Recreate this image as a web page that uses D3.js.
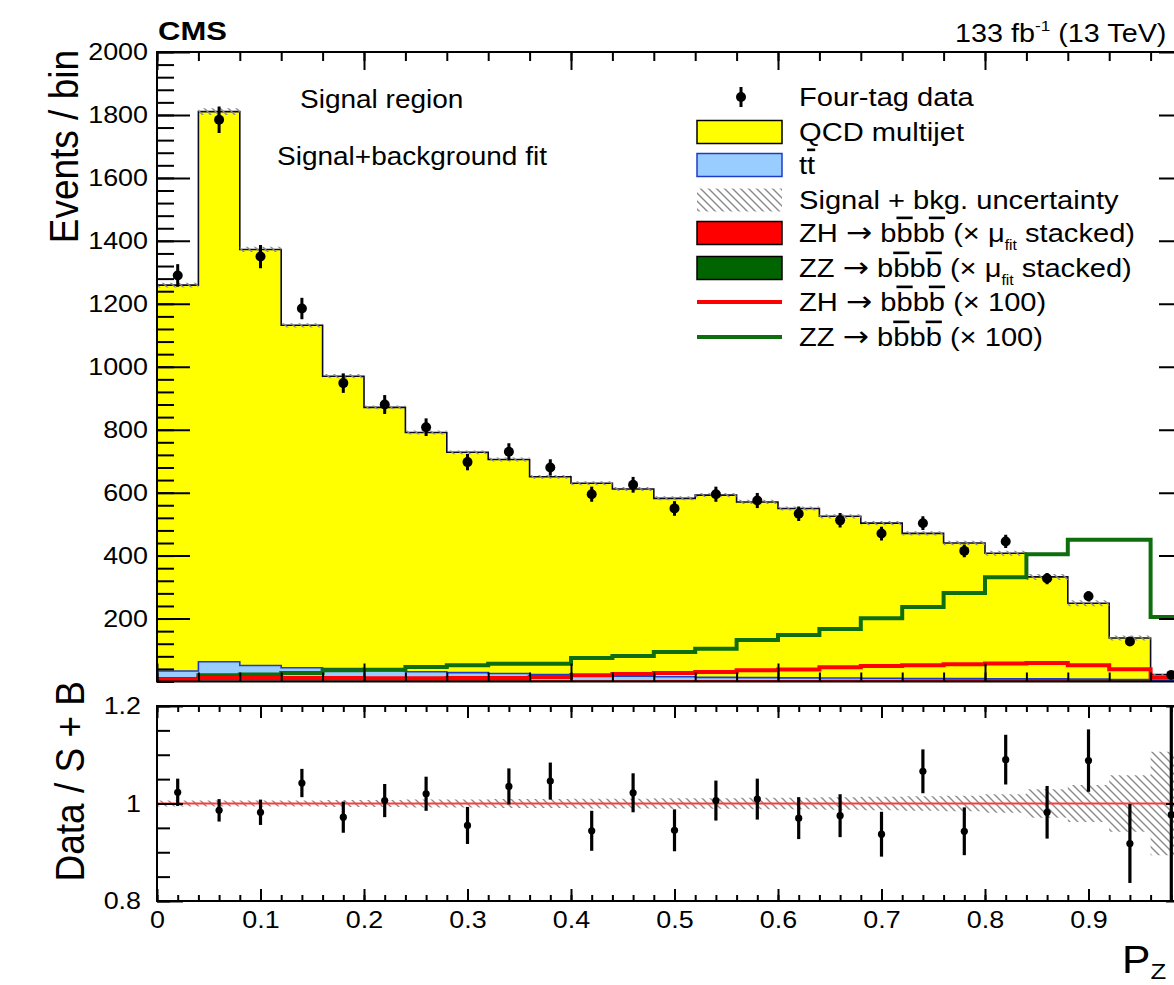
<!DOCTYPE html>
<html><head><meta charset="utf-8">
<script src="https://cdn.jsdelivr.net/npm/d3@7"></script>
<style>
body{margin:0;background:#fff}
svg{display:block}
text{font-family:"Liberation Sans",Arial,Helvetica,sans-serif;fill:#000}
</style></head>
<body><svg id="c" width="1174" height="985"></svg>
<script>
// ---------------- data ----------------
const binEdges = [0,0.04,0.08,0.12,0.16,0.2,0.24,0.28,0.32,0.36,0.4,0.44,0.48,0.52,0.56,0.6,0.64,0.68,0.72,0.76,0.8,0.84,0.88,0.92,0.96,1.0];
const dataCounts = [1290,1785,1350,1185,948,880,808,697,730,680,595,625,550,595,575,533,512,470,503,415,445,327,271,127,21];
const dataErr = [36,42,37,34,31,30,28,26,27,26,24,25,23,24,24,23,23,22,22,20,21,18,16,11,5];
const qcd = [1226,1748,1322,1088,929,837,760,700,680,628,610,595,567,579,558,538,514,493,461,431,399,324,241,132,19];
const ttbar = [33,62,50,43,40,33,30,27,24,21,18,15,13,11,10,9,8,7,6,5,4,3,2,1,0.5];
const zhStacked = [0.3,0.4,0.5,0.5,0.6,0.6,0.7,0.7,0.8,0.8,0.9,0.9,1.0,1.0,1.1,1.1,1.2,1.2,1.3,1.3,1.3,1.3,1.2,0.9,0.3];
const zzStacked = [0.1,0.2,0.2,0.3,0.4,0.4,0.5,0.5,0.6,0.6,0.8,0.8,0.9,1.0,1.3,1.5,1.7,2.0,2.4,2.8,3.3,4.0,4.5,4.5,2.0];
const zh100 = [5,11,11,11,11,10,10,11,11,14,20,24,27,30,36,38,45,49,52,55,57,59,52,39,12];
const zz100 = [8,20,22,27,36,37,46,52,56,56,75,81,94,104,132,148,167,201,237,281,331,404,450,450,205];
const ratio = [1.023,0.986,0.982,1.042,0.972,1.006,1.02,0.955,1.035,1.046,0.944,1.022,0.945,1.006,1.009,0.97,0.975,0.937,1.066,0.943,1.09,0.982,1.088,0.918,0.977];
const ratioErr = [0.028,0.023,0.026,0.029,0.032,0.034,0.035,0.038,0.037,0.038,0.041,0.04,0.043,0.041,0.042,0.043,0.044,0.046,0.045,0.049,0.051,0.054,0.064,0.081,0.24];
const uncRel = [0.006,0.006,0.006,0.006,0.007,0.007,0.008,0.008,0.009,0.009,0.010,0.010,0.011,0.011,0.012,0.012,0.013,0.014,0.015,0.016,0.019,0.029,0.038,0.058,0.106];
const yTopTicks = [200,400,600,800,1000,1200,1400,1600,1800,2000];
const yRatioTicks = [0.8,1.0,1.2];
const xLabelTicks = [0,0.1,0.2,0.3,0.4,0.5,0.6,0.7,0.8,0.9];
const xMajorRatio = [0,0.1,0.2,0.3,0.4,0.5,0.6,0.7,0.8,0.9,1.0];

// ---------------- layout ----------------
const SX = 1.12;
const L = 157, R = 1192;
const topP = {t:52, b:681.5};
const botP = {t:706, b:901};
const svg = d3.select("#c");
const defs = svg.append("defs");
const x = d3.scaleLinear().domain([0,1]).range([L,R]);
const y = d3.scaleLinear().domain([0,2000]).range([topP.b, topP.t]);
const yr = d3.scaleLinear().domain([0.8,1.2]).range([botP.b, botP.t]);

const pat = defs.append("pattern").attr("id","hatch").attr("patternUnits","userSpaceOnUse").attr("width",8).attr("height",8);
pat.append("path").attr("d","M0,0 L8,8 M-2,6 L2,10 M6,-2 L10,2").attr("stroke","#8a8a8a").attr("stroke-width",1.4);
defs.append("clipPath").attr("id","clipTop").append("rect").attr("x",L).attr("y",topP.t).attr("width",R-L).attr("height",topP.b-topP.t);
defs.append("clipPath").attr("id","clipBot").append("rect").attr("x",L).attr("y",botP.t).attr("width",R-L).attr("height",botP.b-botP.t);

function stretchText(sel, sx){
  sel.selectAll("text").each(function(){
    const tx = +this.getAttribute("x")||0, ty = +this.getAttribute("y")||0;
    this.setAttribute("x",0); this.setAttribute("y",0);
    this.setAttribute("transform",`translate(${tx},${ty}) scale(${sx},1)`);
  });
}
function label(g, x0, y0, size, opts={}){
  return g.append("text")
    .attr("transform",`translate(${x0},${y0}) scale(${opts.sx||SX},1)` + (opts.rot?` rotate(${opts.rot})`:""))
    .attr("text-anchor",opts.anchor||"start")
    .attr("font-size",size)
    .attr("font-weight",opts.weight||"normal");
}
function steps(lo, hi){
  const pts=[];
  for(let i=0;i<lo.length;i++){
    pts.push({x:binEdges[i], y0:lo[i], y1:hi[i]});
    pts.push({x:binEdges[i+1], y0:lo[i], y1:hi[i]});
  }
  return pts;
}

// ---------------- top panel ----------------
const gTop = svg.append("g").attr("clip-path","url(#clipTop)");
const rows = binEdges.slice(0,-1).map((e,i)=>({zz:zzStacked[i], zh:zhStacked[i], tt:ttbar[i], qcd:qcd[i]}));
const stack = d3.stack().keys(["zz","zh","tt","qcd"])(rows);
const fills = {zz:"#006400", zh:"#ff0000", tt:"#99ccff", qcd:"#ffff00"};
const lines = {zz:"#006400", zh:"#ff0000", tt:"#1e3ccc", qcd:"#0a0a28"};
const area = d3.area().x(d=>x(d.x)).y0(d=>y(d.y0)).y1(d=>y(d.y1));
const topLine = d3.line().x(d=>x(d.x)).y(d=>y(d.y1));
[...stack].reverse().forEach(s=>{
  const lo = s.map(d=>d[0]), hi = s.map(d=>d[1]);
  gTop.append("path").attr("d",area(steps(lo,hi))).attr("fill",fills[s.key]);
});
stack.forEach(s=>{
  const hi = s.map(d=>d[1]);
  const pts = [{x:0,y1:0}, ...steps(hi,hi), {x:1,y1:0}];
  gTop.append("path").attr("d",topLine(pts)).attr("fill","none").attr("stroke",lines[s.key]).attr("stroke-width",1.6);
});
const total = stack[stack.length-1].map(d=>d[1]);
gTop.append("path").attr("d",area(steps(total.map((t,i)=>t*(1-uncRel[i])), total.map((t,i)=>t*(1+uncRel[i])))))
  .attr("fill","url(#hatch)");
const sigLine = d3.line().x(d=>x(d.x)).y(d=>y(d.y1));
gTop.append("path").attr("d",sigLine(steps(zz100,zz100))).attr("fill","none").attr("stroke","#0e6e0e").attr("stroke-width",4);
gTop.append("path").attr("d",sigLine(steps(zh100,zh100))).attr("fill","none").attr("stroke","#ff0000").attr("stroke-width",4);
const centers = binEdges.slice(0,-1).map((e,i)=>(e+binEdges[i+1])/2);
const gData = gTop.append("g");
centers.forEach((c,i)=>{
  gData.append("line").attr("x1",x(c)).attr("x2",x(c)).attr("y1",y(dataCounts[i]-dataErr[i])).attr("y2",y(dataCounts[i]+dataErr[i])).attr("stroke","#000").attr("stroke-width",3);
  gData.append("circle").attr("cx",x(c)).attr("cy",y(dataCounts[i])).attr("r",5).attr("fill","#000");
});

function styleAxis(g){ g.select(".domain").remove(); g.selectAll("line").attr("stroke","#000").attr("stroke-width",2); g.attr("font-family",null).attr("font-size",24); }
const minorTopY = d3.range(0,2001,40);
svg.append("g").attr("transform",`translate(${L},0)`).call(d3.axisLeft(y).tickValues(minorTopY).tickSize(-17).tickFormat("")).call(styleAxis);
svg.append("g").attr("transform",`translate(${L},0)`).call(d3.axisLeft(y).tickValues(yTopTicks).tickSize(-33).tickPadding(9).tickFormat(d3.format("d"))).call(styleAxis).call(g=>stretchText(g,SX));
svg.append("g").attr("transform",`translate(${R},0)`).call(d3.axisRight(y).tickValues(minorTopY).tickSize(-17).tickFormat("")).call(styleAxis);
svg.append("g").attr("transform",`translate(${R},0)`).call(d3.axisRight(y).tickValues(yTopTicks).tickSize(-33).tickFormat("")).call(styleAxis);
const minorTopX = d3.range(0,1.0001,0.04);
const majorTopX = [0,0.2,0.4,0.6,0.8,1.0];
[[topP.b, d3.axisBottom],[topP.t, d3.axisTop]].forEach(([yy,ax])=>{
  svg.append("g").attr("transform",`translate(0,${yy})`).call(ax(x).tickValues(minorTopX).tickSize(-9).tickFormat("")).call(styleAxis);
  svg.append("g").attr("transform",`translate(0,${yy})`).call(ax(x).tickValues(majorTopX).tickSize(-18).tickFormat("")).call(styleAxis);
});
svg.append("rect").attr("x",L).attr("y",topP.t).attr("width",R-L).attr("height",topP.b-topP.t).attr("fill","none").attr("stroke","#000").attr("stroke-width",2);

// ---------------- ratio panel ----------------
const gBot = svg.append("g").attr("clip-path","url(#clipBot)");
const areaR = d3.area().x(d=>x(d.x)).y0(d=>yr(d.y0)).y1(d=>yr(d.y1));
gBot.append("path").attr("d",areaR(steps(uncRel.map(u=>1-u), uncRel.map(u=>1+u)))).attr("fill","url(#hatch)");
gBot.append("line").attr("x1",x(0)).attr("x2",x(1)).attr("y1",yr(1)).attr("y2",yr(1)).attr("stroke","#ff3a3a").attr("stroke-width",1.8);
centers.forEach((c,i)=>{
  gBot.append("line").attr("x1",x(c)).attr("x2",x(c)).attr("y1",yr(ratio[i]-ratioErr[i])).attr("y2",yr(ratio[i]+ratioErr[i])).attr("stroke","#000").attr("stroke-width",3.2);
  gBot.append("circle").attr("cx",x(c)).attr("cy",yr(ratio[i])).attr("r",3.6).attr("fill","#000");
});
const minorRY = d3.range(0.8,1.2001,0.05);
svg.append("g").attr("transform",`translate(${L},0)`).call(d3.axisLeft(yr).tickValues(minorRY).tickSize(-13).tickFormat("")).call(styleAxis);
svg.append("g").attr("transform",`translate(${L},0)`).call(d3.axisLeft(yr).tickValues(yRatioTicks).tickSize(-26).tickPadding(16).tickFormat(d=>Math.abs(d-1)<1e-9?"1":d3.format(".1f")(d))).call(styleAxis).call(g=>stretchText(g,SX));
svg.append("g").attr("transform",`translate(${R},0)`).call(d3.axisRight(yr).tickValues(minorRY).tickSize(-13).tickFormat("")).call(styleAxis);
svg.append("g").attr("transform",`translate(${R},0)`).call(d3.axisRight(yr).tickValues(yRatioTicks).tickSize(-26).tickFormat("")).call(styleAxis);
const minorRX = d3.range(0,1.0001,0.02);
[[botP.b, d3.axisBottom],[botP.t, d3.axisTop]].forEach(([yy,ax])=>{
  svg.append("g").attr("transform",`translate(0,${yy})`).call(ax(x).tickValues(minorRX).tickSize(-6).tickFormat("")).call(styleAxis);
  svg.append("g").attr("transform",`translate(0,${yy})`).call(ax(x).tickValues(xMajorRatio).tickSize(-12).tickFormat("")).call(styleAxis);
});
svg.append("g").attr("transform",`translate(0,${botP.b})`).call(d3.axisBottom(x).tickValues(xLabelTicks).tickSize(0).tickPadding(10).tickFormat(d=>d===0?"0":d3.format(".1f")(d))).call(styleAxis).call(g=>stretchText(g,SX));
svg.append("rect").attr("x",L).attr("y",botP.t).attr("width",R-L).attr("height",botP.b-botP.t).attr("fill","none").attr("stroke","#000").attr("stroke-width",2);

// ---------------- titles ----------------
label(svg,158,40,25,{weight:"bold",sx:1.24}).text("CMS");
const lum = label(svg,955,42,25,{sx:1.15});
lum.append("tspan").text("133 fb");
lum.append("tspan").attr("dy",-11).attr("font-size",15).text("-1");
lum.append("tspan").attr("dy",11).text(" (13 TeV)");
label(svg,300,108,25).text("Signal region");
label(svg,277,165,25).text("Signal+background fit");
label(svg,78,50,37,{rot:-90,anchor:"end",sx:1.08}).text("Events / bin");
label(svg,84,681,37,{rot:-90,anchor:"end",sx:1.08}).text("Data / S + B");
const xt = label(svg,1122,973,38);
xt.append("tspan").text("P");
xt.append("tspan").attr("dy",6).attr("font-size",23).text("Z");

// ---------------- legend ----------------
const legY = [97,132,165,200,233,268,302,337];
const lg = svg.append("g");
const bx0 = 697, bx1 = 782, tx = 799;
lg.append("line").attr("x1",741).attr("x2",741).attr("y1",legY[0]-10).attr("y2",legY[0]+10).attr("stroke","#000").attr("stroke-width",3);
lg.append("circle").attr("cx",741).attr("cy",legY[0]).attr("r",5).attr("fill","#000");
function box(i, fill, stroke){ lg.append("rect").attr("x",bx0).attr("y",legY[i]-11.5).attr("width",bx1-bx0).attr("height",23).attr("fill",fill).attr("stroke",stroke).attr("stroke-width",stroke==="none"?0:1.5); }
box(1,"#ffff00","#000");
box(2,"#99ccff","#1e3ccc");
box(3,"url(#hatch)","none");
box(4,"#ff0000","#000");
box(5,"#006400","#000");
lg.append("line").attr("x1",bx0).attr("x2",bx1).attr("y1",legY[6]).attr("y2",legY[6]).attr("stroke","#ff0000").attr("stroke-width",4);
lg.append("line").attr("x1",bx0).attr("x2",bx1).attr("y1",legY[7]).attr("y2",legY[7]).attr("stroke","#0e6e0e").attr("stroke-width",4);
const LS = 26;
label(lg,tx,legY[0]+9,LS).text("Four-tag data");
label(lg,tx,legY[1]+9,LS).text("QCD multijet");
const ttT = label(lg,tx,legY[2]+9,LS); ttT.append("tspan").text("t"); ttT.append("tspan").style("text-decoration","overline").text("t");
label(lg,tx,legY[3]+9,LS).text("Signal + bkg. uncertainty");
function head(t,p){
  t.append("tspan").text(p+" ");
  t.append("tspan").style("font-family","'DejaVu Sans'").attr("font-size",28).text("\u2192");
  t.append("tspan").text(" ");
  t.append("tspan").text("b"); t.append("tspan").style("text-decoration","overline").text("b");
  t.append("tspan").text("b"); t.append("tspan").style("text-decoration","overline").text("b");
}
["ZH","ZZ"].forEach((p,k)=>{
  const t = label(lg,tx,legY[4+k]+9,LS);
  head(t,p);
  t.append("tspan").text(" (\u00d7 \u03bc");
  t.append("tspan").attr("dy",8).attr("font-size",14).text("fit");
  t.append("tspan").attr("dy",-8).text(" stacked)");
});
["ZH","ZZ"].forEach((p,k)=>{
  const t = label(lg,tx,legY[6+k]+9,LS);
  head(t,p);
  t.append("tspan").text(" (\u00d7 100)");
});
</script></body></html>
